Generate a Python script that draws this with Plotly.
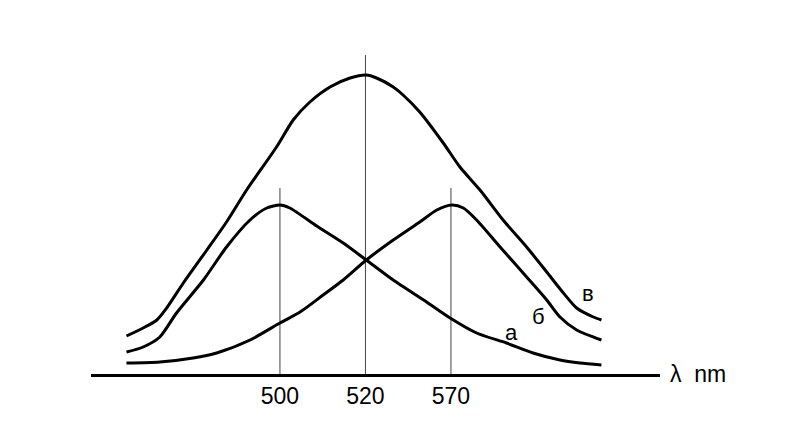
import plotly.graph_objects as go

# schematic wavelength position (ticks at 500, 520, 570 are drawn equally spaced)
tick_pos = [500, 520, 540]
tick_text = ["500", "520", "570"]

# curve "в" (total)
x_v = [464.1, 468.0, 471.2, 473.5, 477.4, 482.9, 487.5, 492.2, 499.2, 503.1, 507.0, 511.7,
       516.4, 520.2, 522.6, 526.5, 528.8, 532.7, 538.2, 542.1, 546.8, 552.2, 557.7, 562.4,
       566.3, 569.4, 573.3, 575.2]
y_v = [0.38, 0.46, 0.54, 0.66, 0.91, 1.24, 1.52, 1.84, 2.27, 2.54, 2.72, 2.87,
       2.96, 2.99, 2.96, 2.87, 2.79, 2.62, 2.31, 2.07, 1.84, 1.54, 1.27, 1.02,
       0.81, 0.66, 0.57, 0.54]

# curve "а" (peak at 500)
x_a = [464.1, 468.0, 471.9, 475.8, 482.1, 487.5, 493.0, 496.9, 500.0, 502.3, 508.6, 514.8,
       520.2, 526.5, 534.3, 539.8, 546.0, 553.0, 559.2, 565.5, 570.2, 575.2]
y_a = [0.22, 0.27, 0.37, 0.61, 0.94, 1.27, 1.54, 1.66, 1.69, 1.66, 1.48, 1.31,
       1.14, 0.94, 0.72, 0.56, 0.41, 0.31, 0.21, 0.14, 0.11, 0.09]

# curve "б" (peak at 570)
x_b = [464.1, 471.9, 479.7, 485.2, 493.0, 500.0, 504.7, 510.1, 514.8, 520.2, 526.5, 532.7,
       536.7, 540.2, 542.9, 546.0, 551.5, 557.7, 562.4, 565.5, 569.4, 575.2]
y_b = [0.11, 0.12, 0.16, 0.21, 0.34, 0.51, 0.62, 0.79, 0.94, 1.14, 1.34, 1.52,
       1.64, 1.69, 1.66, 1.54, 1.27, 0.97, 0.74, 0.57, 0.44, 0.34]

# vertical marker lines
vline_x = [500, 520, 540]
vline_top = [1.86, 3.19, 1.86]

FONT = "Liberation Sans, Arial, sans-serif"

fig = go.Figure()
for xv, top in zip(vline_x, vline_top):
    fig.add_trace(go.Scatter(x=[xv, xv], y=[0, top], mode="lines",
                             line=dict(color="#444444", width=1), hoverinfo="skip",
                             showlegend=False))

for xs, ys in [(x_v, y_v), (x_a, y_a), (x_b, y_b)]:
    fig.add_trace(go.Scatter(x=xs, y=ys, mode="lines",
                             line=dict(color="black", width=3, shape="spline", smoothing=0.7),
                             showlegend=False, hoverinfo="skip"))

labels = [("в", 572.1, 0.81), ("б", 560.4, 0.58), ("а", 554.2, 0.42)]
for t, x, y in labels:
    fig.add_annotation(x=x, y=y, text=t, showarrow=False,
                       font=dict(family=FONT, size=22, color="black"))

fig.add_annotation(x=1.0, xref="paper", y=0, yref="y", text="λ  nm", showarrow=False,
                   xanchor="left", xshift=8, font=dict(family=FONT, size=23, color="black"))

fig.update_layout(
    width=800, height=441,
    margin=dict(l=91, r=140, t=0, b=67),
    paper_bgcolor="white", plot_bgcolor="white",
    xaxis=dict(range=[455.8, 588.9], showgrid=False, zeroline=False,
               showline=True, linecolor="black", linewidth=2.5,
               tickvals=tick_pos, ticktext=tick_text, ticks="",
               tickfont=dict(family=FONT, size=23, color="black")),
    yaxis=dict(range=[0, 3.74], showgrid=False, zeroline=False, showline=False,
               showticklabels=False, ticks=""),
)

fig.write_html("out.html", config={"displayModeBar": False},
               post_script="document.body.style.margin='0';")
